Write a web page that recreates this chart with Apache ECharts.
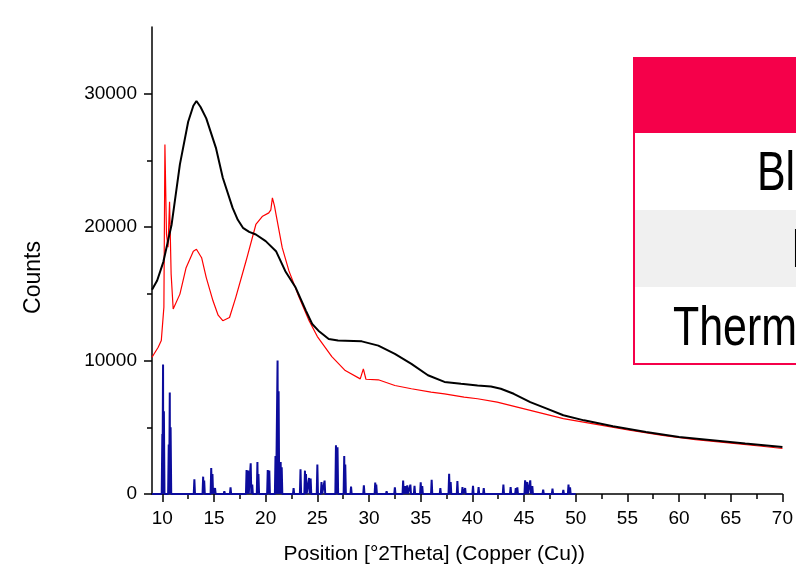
<!DOCTYPE html>
<html>
<head>
<meta charset="utf-8">
<script src="https://cdn.jsdelivr.net/npm/echarts@6/dist/echarts.min.js"></script>
<style>
html,body{margin:0;padding:0;background:#fff;}
#chart{width:796px;height:571px;}
</style>
</head>
<body>
<div id="chart"></div>
<script>
// ---- data ----
const xMajorTicks = [10, 15, 20, 25, 30, 35, 40, 45, 50, 55, 60, 65, 70];
const xMinorTicks = [12.5, 17.5, 22.5, 27.5, 32.5, 37.5, 42.5, 47.5, 52.5, 57.5, 62.5, 67.5];
const yMajorTicks = [0, 10000, 20000, 30000];
const yMinorTicks = [5000, 15000, 25000];

const blackX = [9.0, 9.5, 10.1, 10.9, 11.7, 12.5, 13.0, 13.3, 13.7, 14.25, 15.2, 15.85, 16.8, 17.3, 17.8, 18.4, 19.05, 20.0, 21.0, 21.9, 22.9, 23.9, 24.5, 25.1, 26.1, 27.0, 27.7, 29.3, 30.9, 32.5, 34.1, 35.7, 37.3, 38.9, 40.5, 41.8, 42.75, 44.0, 45.6, 47.2, 48.8, 50.8, 53.6, 56.8, 60.0, 63.2, 66.4, 70.0];
const blackY = [15300, 16000, 17400, 20200, 24700, 27900, 29100, 29450, 29000, 28150, 25900, 23700, 21440, 20550, 19950, 19650, 19450, 18950, 18200, 16700, 15470, 13730, 12740, 12240, 11620, 11500, 11490, 11440, 11120, 10500, 9750, 8900, 8400, 8260, 8130, 8060, 7890, 7510, 6890, 6400, 5900, 5520, 5070, 4650, 4280, 4030, 3780, 3530];

const redX = [9.0, 9.6, 9.9, 10.1, 10.15, 10.25, 10.4, 10.55, 10.7, 10.85, 11.05, 11.7, 12.3, 13.0, 13.3, 13.8, 14.25, 14.9, 15.4, 15.85, 16.5, 17.1, 18.1, 19.05, 19.7, 20.3, 20.5, 20.65, 20.85, 21.0, 21.6, 22.25, 23.2, 24.2, 25.0, 26.4, 27.7, 29.15, 29.45, 29.7, 30.9, 32.5, 34.1, 36.0, 37.3, 39.2, 40.5, 42.4, 45.6, 48.8, 52.0, 55.2, 58.4, 61.6, 64.8, 68.0, 70.0];
const redY = [10250, 11000, 11500, 13500, 14000, 26200, 19500, 18500, 21900, 16500, 13860, 14980, 16960, 18200, 18340, 17710, 16220, 14480, 13400, 12990, 13230, 14720, 17460, 20200, 20820, 21070, 21300, 22190, 21600, 20950, 18460, 16720, 14800, 12990, 11800, 10300, 9250, 8630, 9380, 8600, 8560, 8130, 7890, 7630, 7510, 7260, 7140, 6890, 6270, 5650, 5220, 4780, 4400, 4080, 3830, 3580, 3410];

// reference (blue) pattern: peak positions and heights
const peakX = [10.0, 10.07, 10.15, 10.62, 10.72, 10.8, 13.1, 13.95, 14.05, 14.73, 14.85, 15.1, 16.0, 16.6, 18.15, 18.3, 18.55, 18.7, 19.2, 19.3, 20.2, 20.35, 20.95, 21.15, 21.25, 21.45, 21.55, 22.7, 23.37, 23.8, 23.9, 24.2, 24.35, 25.0, 25.4, 25.7, 26.8, 26.95, 27.6, 27.7, 28.26, 29.5, 30.6, 30.7, 31.7, 32.5, 33.3, 33.5, 33.7, 34.0, 34.4, 35.0, 35.15, 36.06, 36.9, 37.75, 37.9, 38.55, 39.04, 39.3, 40.06, 40.6, 41.1, 43.0, 43.7, 44.2, 44.35, 45.1, 45.3, 45.6, 45.8, 46.85, 47.75, 48.8, 49.3, 49.45];
const peakY = [4500, 9700, 6200, 3700, 7600, 5000, 1100, 1300, 1000, 1950, 1500, 450, 200, 500, 1800, 1750, 2300, 700, 2400, 1500, 1800, 1750, 2850, 10000, 7700, 2400, 2000, 450, 1850, 1750, 1500, 1200, 1150, 2200, 900, 1000, 3650, 3500, 2850, 2200, 550, 650, 850, 700, 200, 500, 1000, 600, 650, 700, 620, 880, 600, 1070, 450, 1520, 900, 970, 520, 450, 620, 520, 450, 700, 520, 450, 500, 1020, 900, 1020, 600, 320, 400, 300, 700, 500];
const patternStart = 9.0, patternEnd = 50.0;

const xTitle = 'Position [°2Theta] (Copper (Cu))';
const yTitle = 'Counts';
const tableRows = ['Blank', 'Inclusion', 'Thermal'];

// ---- build series data ----
const zip = (xs, ys) => xs.map((x, i) => [x, ys[i]]);
const halfW = 0.06;
let pts = [[patternStart, 0]];
peakX.forEach((p, i) => {
  pts.push([p - halfW, 0]);
  pts.push([p, peakY[i]]);
  pts.push([p + halfW, 0]);
});
pts.push([patternEnd, 0]);
pts.sort((a, b) => a[0] - b[0]);

const FONT = 'Liberation Sans, Arial, sans-serif';
const RED = '#F5004A';

const chart = echarts.init(document.getElementById('chart'), null, {renderer: 'canvas'});
const axisLineStyle = {color: '#000', width: 1.5};
const plain = v => String(v);

const tableText = (txt, x, baseline) => ({
  type: 'text', x: x, y: baseline + 9.5, scaleX: 0.78, z: 12,
  style: {text: txt, font: '55px ' + FONT, fill: '#000', align: 'left', verticalAlign: 'bottom'}
});

chart.setOption({
  animation: false,
  backgroundColor: '#fff',
  grid: {left: 152, right: 9, top: 27, bottom: 77},
  xAxis: [{
    type: 'value', min: 9, max: 70,
    axisLine: {show: true, onZero: false, lineStyle: axisLineStyle},
    axisTick: {show: true, length: 8, lineStyle: {color: '#000', width: 1.5}, customValues: xMajorTicks},
    axisLabel: {customValues: xMajorTicks, formatter: plain, color: '#000', fontSize: 19, fontFamily: FONT, margin: 15},
    splitLine: {show: false},
    name: xTitle, nameLocation: 'middle', nameGap: 50,
    nameTextStyle: {fontSize: 21, fontFamily: FONT, color: '#000', padding: [0, 66, 0, 0]}
  }, {
    type: 'value', min: 9, max: 70, position: 'bottom',
    axisLine: {show: false},
    axisTick: {show: true, length: 5, lineStyle: {color: '#000', width: 1.5}, customValues: xMinorTicks},
    axisLabel: {show: false},
    splitLine: {show: false}
  }],
  yAxis: [{
    type: 'value', min: 0, max: 35000,
    axisLine: {show: true, onZero: false, lineStyle: axisLineStyle},
    axisTick: {show: true, length: 8, lineStyle: {color: '#000', width: 1.5}, customValues: yMajorTicks},
    axisLabel: {customValues: yMajorTicks, formatter: plain, color: '#000', fontSize: 19, fontFamily: FONT, margin: 15},
    splitLine: {show: false},
    name: yTitle, nameLocation: 'middle', nameGap: 107, nameRotate: 90,
    nameTextStyle: {fontSize: 23, fontFamily: FONT, color: '#000', padding: [0, 34, 0, 0]}
  }, {
    type: 'value', min: 0, max: 35000, position: 'left',
    axisLine: {show: false},
    axisTick: {show: true, length: 5, lineStyle: {color: '#000', width: 1.5}, customValues: yMinorTicks},
    axisLabel: {show: false},
    splitLine: {show: false}
  }],
  series: [{
    type: 'line', name: 'Reference', data: pts, showSymbol: false,
    lineStyle: {color: '#0c0c9c', width: 2}, z: 2
  }, {
    type: 'line', name: 'Red', data: zip(redX, redY), showSymbol: false,
    lineStyle: {color: '#ff0000', width: 1.2}, z: 3
  }, {
    type: 'line', name: 'Black', data: zip(blackX, blackY), showSymbol: false,
    lineStyle: {color: '#000000', width: 2}, z: 4
  }],
  graphic: [
    {type: 'rect', shape: {x: 633, y: 57, width: 200, height: 76}, style: {fill: RED}, z: 10},
    {type: 'rect', shape: {x: 635, y: 133, width: 200, height: 77}, style: {fill: '#ffffff'}, z: 10},
    {type: 'rect', shape: {x: 635, y: 210, width: 200, height: 77}, style: {fill: '#F0F0F0'}, z: 10},
    {type: 'rect', shape: {x: 635, y: 287, width: 200, height: 77}, style: {fill: '#ffffff'}, z: 10},
    {type: 'line', shape: {x1: 634, y1: 57, x2: 634, y2: 365}, style: {stroke: RED, lineWidth: 2}, z: 11},
    {type: 'line', shape: {x1: 633, y1: 364, x2: 800, y2: 364}, style: {stroke: RED, lineWidth: 2}, z: 11},
    tableText(tableRows[0], 757, 193),
    tableText(tableRows[1], 791, 270),
    tableText(tableRows[2], 673, 348)
  ]
});
</script>
</body>
</html>
